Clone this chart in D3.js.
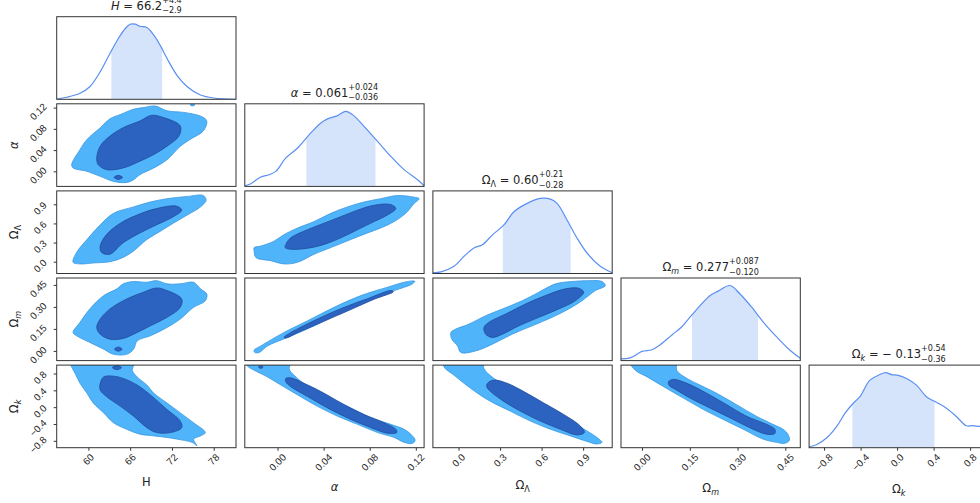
<!DOCTYPE html>
<html>
<head>
<meta charset="utf-8">
<script src="https://cdn.jsdelivr.net/npm/d3@7"></script>
<style>
  body { margin: 0; background: #fff; }
  svg { display: block; font-family: "DejaVu Sans", sans-serif; }
  text { white-space: pre; }
</style>
</head>
<body>
<svg id="chart" width="980" height="503"></svg>
<script>
// ---- data ----
const paramNames = ["H", "alpha", "OmegaL", "Omegam", "Omegak"];
const axisLimits = [[55.45, 81.2], [-0.0284, 0.1272], [-0.185, 1.11], [-0.066, 0.497], [-0.964, 1.0]];
const tickValues = [[60, 66, 72, 78], [0, 0.04, 0.08, 0.12], [0, 0.3, 0.6, 0.9], [0, 0.15, 0.3, 0.45], [-0.8, -0.4, 0, 0.4, 0.8]];
const tickFormats = [".0f", ".2f", ".1f", ".2f", ".1f"];
const medians = [66.2, 0.061, 0.60, 0.277, -0.13];
const errPlus = [4.4, 0.024, 0.21, 0.087, 0.54];
const errMinus = [2.9, 0.036, 0.28, 0.120, 0.36];
const valueDigits = [1, 3, 2, 3, 2];

// 1D marginals: [value, density relative to peak]
const marginalH = [[55.45,0.004],[56.9,0.027],[58.8,0.08],[60.2,0.167],[61.7,0.367],[63.1,0.611],[64.3,0.81],[65.3,0.943],[66.0,1.0],[66.7,1.0],[67.4,0.973],[68.4,0.956],[69.4,0.854],[70.3,0.721],[71.3,0.544],[72.7,0.323],[74.2,0.167],[76.1,0.057],[78.0,0.017],[81.2,0.0]];
const marginalAlpha = [[-0.0284,0.009],[-0.0232,0.036],[-0.0145,0.125],[-0.0073,0.156],[-0.0015,0.2],[0.0072,0.379],[0.0174,0.512],[0.0289,0.712],[0.0376,0.845],[0.0434,0.899],[0.0521,0.943],[0.0593,1.0],[0.0651,0.956],[0.0751,0.8],[0.0868,0.6],[0.0983,0.4],[0.1098,0.223],[0.1215,0.089],[0.1272,0.009]];
const marginalOmegaL = [[-0.185,0.009],[-0.127,0.022],[-0.032,0.096],[0.04,0.229],[0.112,0.34],[0.173,0.383],[0.245,0.515],[0.328,0.647],[0.4,0.823],[0.496,0.934],[0.592,1.0],[0.664,0.991],[0.712,0.934],[0.784,0.713],[0.856,0.472],[0.928,0.273],[1.024,0.096],[1.11,0.009]];
const marginalOmegam = [[-0.066,0.022],[-0.037,0.036],[0.0,0.122],[0.031,0.145],[0.057,0.211],[0.094,0.342],[0.125,0.451],[0.156,0.605],[0.188,0.759],[0.214,0.868],[0.239,0.925],[0.276,1.0],[0.307,0.891],[0.344,0.714],[0.38,0.517],[0.422,0.32],[0.463,0.145],[0.497,0.03]];
const marginalOmegak = [[-0.964,0.013],[-0.879,0.043],[-0.77,0.132],[-0.661,0.284],[-0.57,0.461],[-0.48,0.592],[-0.407,0.679],[-0.298,0.899],[-0.189,0.974],[-0.126,1.0],[-0.061,0.974],[0.011,0.964],[0.103,0.921],[0.212,0.833],[0.321,0.679],[0.43,0.605],[0.54,0.526],[0.649,0.416],[0.757,0.293],[0.829,0.293],[0.902,0.284],[1.0,0.28]];

// 2D credible regions: outer = 2 sigma, inner = 1 sigma, [x, y] in data units
const hAlphaOuter = [[57.6,0.0127],[58.8,0.041],[59.8,0.06],[61.7,0.082],[63.1,0.099],[64.6,0.107],[66.5,0.117],[67.9,0.12],[69.6,0.123],[71.3,0.114],[73.7,0.111],[76.1,0.104],[77.0,0.095],[76.5,0.076],[74.6,0.06],[73.2,0.047],[71.3,0.022],[69.4,0.0064],[67.4,-0.0063],[66.5,-0.0157],[65.5,-0.021],[63.6,-0.019],[61.7,-0.0095],[59.8,0.0],[57.8,0.0064]];
const hAlphaOuterIsland = [[74.6,0.125],[74.9,0.1268],[75.3,0.125],[74.9,0.1232]];
const hAlphaInner = [[61.2,0.0254],[61.7,0.0474],[63.1,0.0664],[65.0,0.0823],[67.4,0.0948],[69.1,0.1056],[70.8,0.1012],[73.2,0.0853],[73.0,0.0664],[71.3,0.0474],[69.4,0.0317],[67.4,0.019],[65.0,0.0064],[62.6,0.0032],[61.4,0.0127]];
const hAlphaInnerIsland = [[63.7,-0.0114],[64.3,-0.0076],[64.9,-0.0114],[64.3,-0.0152]];

const hOmegaLOuter = [[57.8,-0.009],[58.3,0.144],[59.8,0.348],[61.7,0.578],[63.6,0.758],[66.5,0.859],[68.9,0.936],[71.3,0.988],[74.2,1.023],[76.5,1.038],[76.9,0.962],[76.1,0.859],[74.2,0.732],[72.2,0.604],[70.3,0.475],[68.4,0.348],[66.5,0.169],[65.0,0.067],[63.1,0.0],[60.7,-0.02],[58.8,-0.035]];
const hOmegaLInner = [[61.7,0.245],[62.6,0.425],[64.6,0.604],[67.0,0.732],[69.8,0.834],[72.7,0.87],[73.4,0.808],[72.2,0.706],[69.8,0.578],[67.4,0.451],[65.0,0.298],[63.1,0.118],[61.9,0.144]];

const hOmegamOuter = [[57.8,0.126],[58.8,0.195],[60.2,0.286],[62.2,0.377],[64.1,0.423],[65.0,0.457],[66.5,0.473],[68.4,0.468],[69.8,0.479],[71.3,0.457],[73.2,0.457],[75.1,0.468],[76.1,0.423],[77.0,0.388],[76.8,0.342],[75.1,0.297],[73.2,0.217],[71.3,0.16],[68.9,0.103],[67.0,0.068],[66.5,0.012],[65.5,-0.023],[63.6,-0.023],[62.2,0.012],[60.2,0.058],[58.3,0.103]];
const hOmegamInner = [[61.2,0.16],[61.7,0.217],[63.1,0.286],[65.5,0.354],[67.9,0.4],[69.8,0.429],[71.3,0.411],[73.4,0.354],[73.2,0.297],[71.3,0.229],[68.9,0.171],[66.5,0.114],[65.0,0.085],[63.1,0.08],[61.7,0.114]];
const hOmegamInnerIsland = [[63.75,0.012],[64.3,0.026],[64.85,0.012],[64.3,-0.002]];

const hOmegakOuter = [[57.6,0.954],[57.1,1.23],[66.6,1.23],[66.5,0.994],[66.3,0.877],[67.0,0.72],[68.4,0.526],[69.4,0.332],[71.3,0.098],[73.2,-0.136],[75.1,-0.37],[76.8,-0.604],[76.1,-0.683],[75.1,-0.76],[75.6,-0.917],[74.9,-0.837],[72.7,-0.76],[71.3,-0.72],[69.4,-0.683],[67.4,-0.643],[65.5,-0.526],[63.6,-0.37],[62.2,-0.136],[60.7,0.098],[59.8,0.332],[58.8,0.566],[58.1,0.8]];
const hOmegakInner = [[61.7,0.566],[62.2,0.72],[63.6,0.737],[65.0,0.683],[67.0,0.526],[68.9,0.292],[71.3,-0.058],[73.2,-0.332],[73.4,-0.487],[71.8,-0.604],[69.8,-0.604],[68.4,-0.487],[66.5,-0.215],[64.6,0.019],[62.6,0.253],[61.7,0.409]];
const hOmegakInnerIsland = [[63.45,0.94],[64.1,0.99],[64.75,0.94],[64.1,0.89]];

const alphaOmegaLOuter = [[-0.0203,0.221],[-0.0145,0.245],[-0.003,0.322],[0.0057,0.425],[0.0174,0.528],[0.0318,0.629],[0.0462,0.758],[0.0607,0.859],[0.0751,0.936],[0.0896,0.988],[0.1041,1.038],[0.1185,1.012],[0.1229,0.988],[0.1185,0.911],[0.1113,0.758],[0.1012,0.629],[0.0896,0.528],[0.0781,0.451],[0.0636,0.348],[0.0462,0.221],[0.0318,0.118],[0.0174,-0.009],[0.0057,-0.035],[-0.0058,0.015],[-0.0188,0.067],[-0.0203,0.169]];
const alphaOmegaLInner = [[0.0072,0.271],[0.0115,0.374],[0.026,0.502],[0.0404,0.604],[0.0549,0.706],[0.0694,0.808],[0.0838,0.885],[0.0983,0.896],[0.1026,0.834],[0.0954,0.732],[0.0838,0.629],[0.0694,0.502],[0.0549,0.374],[0.0404,0.271],[0.026,0.21],[0.0115,0.195],[0.0066,0.221]];

const alphaOmegamOuter = [[-0.0203,0.005],[-0.0145,0.034],[0.0057,0.126],[0.026,0.205],[0.0491,0.297],[0.0723,0.377],[0.0954,0.434],[0.1128,0.473],[0.1191,0.475],[0.1171,0.457],[0.1012,0.411],[0.0781,0.354],[0.0549,0.263],[0.0318,0.171],[0.0087,0.092],[-0.0087,0.034],[-0.016,-0.011],[-0.0197,-0.011]];
const alphaOmegamInner = [[0.0057,0.094],[0.0095,0.116],[0.0318,0.207],[0.0549,0.288],[0.0781,0.356],[0.0985,0.412],[0.1005,0.404],[0.0838,0.352],[0.0607,0.272],[0.0376,0.193],[0.0174,0.124],[0.0072,0.088]];

const alphaOmegakOuter = [[-0.0275,1.158],[0.0133,1.158],[0.0101,0.917],[0.0174,0.683],[0.0289,0.449],[0.0462,0.215],[0.0636,-0.019],[0.081,-0.253],[0.0983,-0.409],[0.1098,-0.526],[0.1157,-0.643],[0.1194,-0.784],[0.1171,-0.861],[0.1098,-0.837],[0.1012,-0.72],[0.0868,-0.604],[0.0694,-0.409],[0.0521,-0.215],[0.0347,0.019],[0.0174,0.292],[0.0029,0.526],[-0.0087,0.72],[-0.0203,0.877],[-0.0266,0.994]];
const alphaOmegakInner = [[0.0072,0.683],[0.0115,0.697],[0.0231,0.566],[0.0404,0.332],[0.0578,0.058],[0.0751,-0.175],[0.0925,-0.37],[0.1026,-0.526],[0.1035,-0.604],[0.0954,-0.62],[0.081,-0.487],[0.0636,-0.292],[0.0434,-0.019],[0.026,0.253],[0.0115,0.487],[0.0072,0.604]];
const alphaOmegakInnerIsland = [[-0.0165,0.954],[-0.0145,0.985],[-0.0125,0.954],[-0.0145,0.923]];

const omegaLOmegamOuter = [[-0.055,0.126],[-0.019,0.149],[0.076,0.183],[0.196,0.24],[0.317,0.286],[0.46,0.342],[0.58,0.4],[0.7,0.457],[0.82,0.473],[0.94,0.479],[1.036,0.473],[1.06,0.445],[0.988,0.411],[0.892,0.342],[0.796,0.286],[0.676,0.229],[0.532,0.171],[0.388,0.114],[0.245,0.046],[0.124,0.0],[0.017,-0.011],[-0.007,0.034],[-0.048,0.08]];
const omegaLOmegamInner = [[0.184,0.16],[0.22,0.195],[0.34,0.251],[0.484,0.32],[0.628,0.377],[0.772,0.423],[0.868,0.427],[0.904,0.4],[0.844,0.342],[0.724,0.286],[0.58,0.229],[0.436,0.171],[0.317,0.114],[0.245,0.092],[0.196,0.114]];

const omegaLOmegakOuter = [[-0.106,1.158],[0.175,1.158],[0.184,0.917],[0.256,0.683],[0.376,0.449],[0.52,0.215],[0.664,-0.058],[0.808,-0.332],[0.928,-0.566],[1.0,-0.72],[1.036,-0.837],[1.0,-0.877],[0.928,-0.814],[0.808,-0.683],[0.664,-0.526],[0.52,-0.332],[0.376,-0.098],[0.232,0.136],[0.137,0.332],[0.04,0.566],[-0.032,0.76],[-0.104,0.954]];
const omegaLOmegakInner = [[0.209,0.566],[0.256,0.643],[0.353,0.566],[0.472,0.37],[0.616,0.098],[0.76,-0.175],[0.88,-0.449],[0.909,-0.604],[0.856,-0.66],[0.736,-0.526],[0.592,-0.332],[0.448,-0.098],[0.328,0.136],[0.232,0.37],[0.204,0.487]];

const omegamOmegakOuter = [[-0.043,1.158],[0.107,1.158],[0.109,0.877],[0.141,0.683],[0.182,0.526],[0.234,0.332],[0.297,0.058],[0.359,-0.215],[0.411,-0.409],[0.443,-0.526],[0.458,-0.643],[0.463,-0.784],[0.448,-0.861],[0.422,-0.837],[0.38,-0.76],[0.318,-0.526],[0.255,-0.292],[0.193,-0.058],[0.13,0.215],[0.068,0.487],[0.016,0.72],[-0.021,0.877]];
const omegamOmegakInner = [[0.083,0.604],[0.099,0.66],[0.141,0.566],[0.203,0.332],[0.266,0.058],[0.328,-0.215],[0.391,-0.409],[0.417,-0.526],[0.417,-0.627],[0.391,-0.643],[0.338,-0.487],[0.276,-0.253],[0.213,-0.019],[0.151,0.215],[0.104,0.426],[0.086,0.51]];

// ---- layout & style ----
const grid = { left: 56.7, top: 16.7, w: 179.3, h: 82.6, dx: 188.1, dy: 87.1 };
const colors = {
  frame: "#333333",
  outerFill: "#50b4fa", outerEdge: "#3a98e2",
  innerFill: "#2c63c1", innerEdge: "#1f4c9c",
  line: "#5a8ff2", band: "#d5e4fb"
};
const titleSize = 11.5, labelSize = 11.5, tickSize = 9.8;

const marginals = [marginalH, marginalAlpha, marginalOmegaL, marginalOmegam, marginalOmegak];
const contourPanels = [
  { row: 1, col: 0, outer: [hAlphaOuter, hAlphaOuterIsland], inner: [hAlphaInner, hAlphaInnerIsland] },
  { row: 2, col: 0, outer: [hOmegaLOuter], inner: [hOmegaLInner] },
  { row: 3, col: 0, outer: [hOmegamOuter], inner: [hOmegamInner, hOmegamInnerIsland] },
  { row: 4, col: 0, outer: [hOmegakOuter], inner: [hOmegakInner, hOmegakInnerIsland] },
  { row: 2, col: 1, outer: [alphaOmegaLOuter], inner: [alphaOmegaLInner] },
  { row: 3, col: 1, outer: [alphaOmegamOuter], inner: [alphaOmegamInner] },
  { row: 4, col: 1, outer: [alphaOmegakOuter], inner: [alphaOmegakInner, alphaOmegakInnerIsland] },
  { row: 3, col: 2, outer: [omegaLOmegamOuter], inner: [omegaLOmegamInner] },
  { row: 4, col: 2, outer: [omegaLOmegakOuter], inner: [omegaLOmegakInner] },
  { row: 4, col: 3, outer: [omegamOmegakOuter], inner: [omegamOmegakInner] }
];

// math-like label pieces (symbol with optional subscript)
const symbolPieces = [
  [{ t: "H", it: true }],
  [{ t: "α", it: true }],
  [{ t: "Ω" }, { t: "Λ", script: true }],
  [{ t: "Ω" }, { t: "m", script: true, it: true }],
  [{ t: "Ω" }, { t: "k", script: true, it: true }]
];
const axisLabelPieces = [
  [{ t: "H" }],
  [{ t: "α", it: true }],
  [{ t: "Ω" }, { t: "Λ", script: true }],
  [{ t: "Ω" }, { t: "m", script: true, it: true }],
  [{ t: "Ω" }, { t: "k", script: true, it: true }]
];

const svg = d3.select("#chart");
const defs = svg.append("defs");
const n = paramNames.length;

const colX = j => grid.left + j * grid.dx;
const rowY = i => grid.top + i * grid.dy;
const xScales = axisLimits.map((lim, j) => d3.scaleLinear().domain(lim).range([colX(j), colX(j) + grid.w]));
const yScales = axisLimits.map((lim, i) => d3.scaleLinear().domain(lim).range([rowY(i) + grid.h, rowY(i)]));

// draw a sequence of text pieces, return total width
function drawMath(g, pieces, size) {
  let x = 0;
  pieces.forEach(p => {
    if (p.stack) {
      const s = size * 0.7;
      const a = g.append("text").attr("x", x).attr("y", -size * 0.6).attr("font-size", s).text(p.stack[0]);
      const b = g.append("text").attr("x", x).attr("y", size * 0.3).attr("font-size", s).text(p.stack[1]);
      x += Math.max(a.node().getComputedTextLength(), b.node().getComputedTextLength());
    } else {
      const fs = p.script ? size * 0.7 : size;
      const t = g.append("text")
        .attr("x", x)
        .attr("y", p.script ? size * 0.22 : 0)
        .attr("font-size", fs)
        .attr("font-style", p.it ? "italic" : null)
        .text(p.t);
      x += t.node().getComputedTextLength();
    }
  });
  return x;
}

const curveLine = d3.curveCatmullRomClosed.alpha(0.5);

for (let i = 0; i < n; i++) {
  for (let j = 0; j <= i; j++) {
    const id = `clip-${i}-${j}`;
    defs.append("clipPath").attr("id", id).append("rect")
      .attr("x", colX(j)).attr("y", rowY(i)).attr("width", grid.w).attr("height", grid.h);
  }
}

// 2D panels
contourPanels.forEach(p => {
  const xs = xScales[p.col], ys = yScales[p.row];
  const line = d3.line().x(d => xs(d[0])).y(d => ys(d[1])).curve(curveLine);
  const g = svg.append("g").attr("clip-path", `url(#clip-${p.row}-${p.col})`);
  p.outer.forEach(poly => g.append("path").attr("d", line(poly))
    .attr("fill", colors.outerFill).attr("stroke", colors.outerEdge).attr("stroke-width", 0.8));
  p.inner.forEach(poly => g.append("path").attr("d", line(poly))
    .attr("fill", colors.innerFill).attr("stroke", colors.innerEdge).attr("stroke-width", 0.8));
});

// 1D panels
marginals.forEach((data, k) => {
  const xs = xScales[k];
  const ys = d3.scaleLinear().domain([0, 1.1]).range([rowY(k) + grid.h, rowY(k)]);
  const g = svg.append("g").attr("clip-path", `url(#clip-${k}-${k})`);
  const lo = medians[k] - errMinus[k], hi = medians[k] + errPlus[k];
  const bandId = `band-${k}`;
  defs.append("clipPath").attr("id", bandId).append("rect")
    .attr("x", xs(lo)).attr("y", rowY(k)).attr("width", xs(hi) - xs(lo)).attr("height", grid.h);
  const area = d3.area().x(d => xs(d[0])).y0(ys(0)).y1(d => ys(d[1])).curve(d3.curveCatmullRom.alpha(0.5));
  g.append("g").attr("clip-path", `url(#${bandId})`)
    .append("path").attr("d", area(data)).attr("fill", colors.band);
  const line = d3.line().x(d => xs(d[0])).y(d => ys(d[1])).curve(d3.curveCatmullRom.alpha(0.5));
  g.append("path").attr("d", line(data)).attr("fill", "none")
    .attr("stroke", colors.line).attr("stroke-width", 1.2);

  // title
  const fmt = d3.format(`.${valueDigits[k]}f`);
  const valueText = medians[k] < 0 ? " = − " + fmt(-medians[k]) : " = " + fmt(medians[k]);
  const pieces = symbolPieces[k].concat([{ t: valueText }, { stack: ["+" + fmt(errPlus[k]), "−" + fmt(errMinus[k])] }]);
  const tg = svg.append("g").attr("fill", "#222");
  const w = drawMath(tg, pieces, titleSize);
  tg.attr("transform", `translate(${colX(k) + grid.w / 2 - w / 2},${rowY(k) - 6.8})`);
});

// frames
for (let i = 0; i < n; i++) {
  for (let j = 0; j <= i; j++) {
    svg.append("rect").attr("x", colX(j)).attr("y", rowY(i))
      .attr("width", grid.w).attr("height", grid.h)
      .attr("fill", "none").attr("stroke", colors.frame).attr("stroke-width", 1);
  }
}

const c45 = Math.SQRT1_2;

// bottom axes
for (let j = 0; j < n; j++) {
  const ax = svg.append("g").attr("transform", `translate(0,${rowY(n - 1) + grid.h})`)
    .call(d3.axisBottom(xScales[j]).tickValues(tickValues[j]).tickFormat(d3.format(tickFormats[j])).tickSize(3).tickPadding(0));
  ax.select(".domain").remove();
  ax.selectAll(".tick line").attr("stroke", colors.frame);
  ax.selectAll(".tick text").each(function () {
    const t = d3.select(this).attr("font-size", tickSize).attr("fill", "#222").attr("font-family", null);
    const L = this.getComputedTextLength();
    const cy = 5 + (L + tickSize * 0.8) * c45 / 2;
    t.attr("x", -0.5).attr("y", cy).attr("dy", null)
      .attr("dominant-baseline", "central").attr("text-anchor", "middle")
      .attr("transform", `rotate(-45 -0.5 ${cy})`);
  });
  const lg = svg.append("g").attr("fill", "#222");
  const w = drawMath(lg, axisLabelPieces[j], labelSize);
  const base = [486, 491, 489, 492, 493][j];
  lg.attr("transform", `translate(${colX(j) + grid.w / 2 - w / 2},${base})`);
}

// left axes
for (let i = 1; i < n; i++) {
  const ax = svg.append("g").attr("transform", `translate(${grid.left},0)`)
    .call(d3.axisLeft(yScales[i]).tickValues(tickValues[i]).tickFormat(d3.format(tickFormats[i])).tickSize(3).tickPadding(0));
  ax.select(".domain").remove();
  ax.selectAll(".tick line").attr("stroke", colors.frame);
  ax.selectAll(".tick text").each(function () {
    const t = d3.select(this).attr("font-size", tickSize).attr("fill", "#222").attr("font-family", null);
    const L = this.getComputedTextLength();
    const cx = -(9 + (L + tickSize * 0.8) * c45 / 2);
    t.attr("x", cx).attr("y", 3.5).attr("dy", null)
      .attr("dominant-baseline", "central").attr("text-anchor", "middle")
      .attr("transform", `rotate(-45 ${cx} 3.5)`);
  });
  const lg = svg.append("g").attr("fill", "#222");
  const w = drawMath(lg, axisLabelPieces[i], labelSize);
  lg.attr("transform", `translate(18,${rowY(i) + grid.h / 2}) rotate(-90) translate(${-w / 2},0)`);
}
</script>
</body>
</html>
